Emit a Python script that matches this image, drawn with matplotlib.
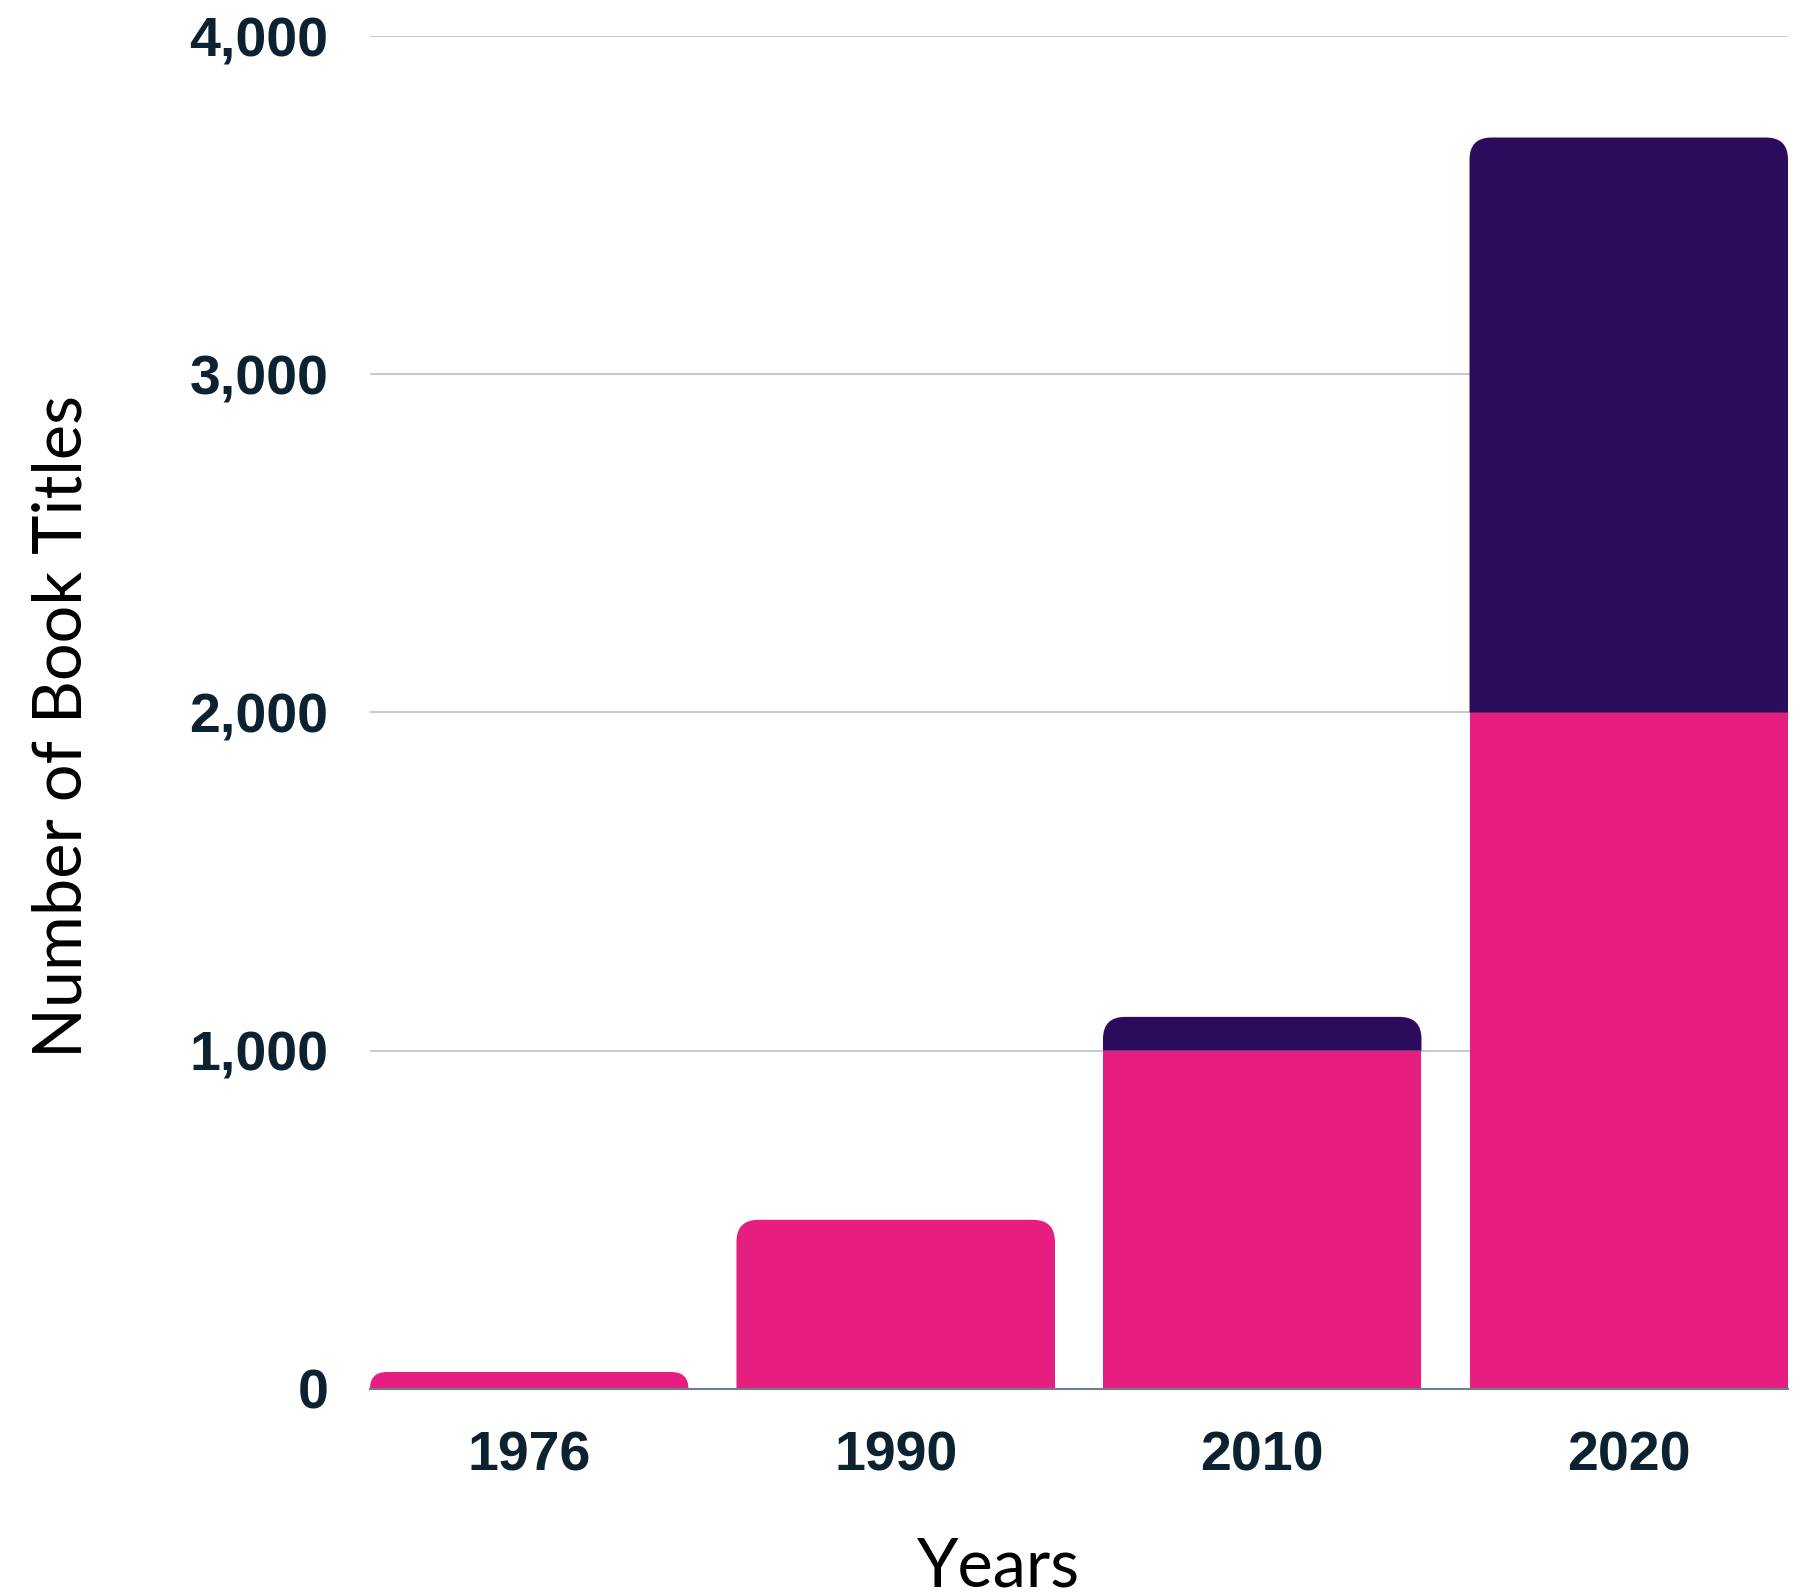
import numpy as np
import matplotlib
matplotlib.use('Agg')
import matplotlib.pyplot as plt
from matplotlib.path import Path
from matplotlib.patches import PathPatch
from matplotlib.ticker import FuncFormatter

years = ['1976', '1990', '2010', '2020']
base = [50, 500, 1000, 2000]      # pink part
extra = [0, 0, 100, 1700]         # dark purple part on top
yticks = [0, 1000, 2000, 3000, 4000]

pink = '#E51E7F'
purple = '#2B0C5C'
txt = '#0D2231'

fig = plt.figure(figsize=(18.09, 15.95), dpi=100)
ax = fig.add_axes([0.2045, 0.1292, 0.7839, 0.8482])

x = np.arange(len(years))
w = 0.869
b1 = ax.bar(x, base, w, color=pink, zorder=3)
b2 = ax.bar(x, extra, w, bottom=base, color=purple, zorder=3)

ax.set_xlim(-w / 2, len(years) - 1 + w / 2)
ax.set_ylim(0, 4000)

# round the top corners of the topmost segment of each stack
fig.canvas.draw()
to_data = ax.transData.inverted()
r_px = 22
for i in range(len(years)):
    rect = b2[i] if extra[i] > 0 else b1[i]
    x0, y0 = rect.get_x(), rect.get_y()
    x1, y1 = x0 + rect.get_width(), y0 + rect.get_height()
    p0 = ax.transData.transform((x0, y0))
    p1 = ax.transData.transform((x1, y1))
    r = min(r_px, p1[1] - p0[1])
    rx = to_data.transform((p0[0] + r, p0[1]))[0] - x0
    ry = y0 - to_data.transform((p0[0], p0[1] - r))[1]
    verts = [(x0, y0), (x1, y0), (x1, y1 - ry), (x1, y1), (x1 - rx, y1),
             (x0 + rx, y1), (x0, y1), (x0, y1 - ry), (x0, y0)]
    codes = [Path.MOVETO, Path.LINETO, Path.LINETO, Path.CURVE3, Path.CURVE3,
             Path.LINETO, Path.CURVE3, Path.CURVE3, Path.CLOSEPOLY]
    rect.set_visible(False)
    ax.add_patch(PathPatch(Path(verts, codes), facecolor=rect.get_facecolor(),
                           edgecolor='none', zorder=3))

ax.set_yticks(yticks)
ax.yaxis.set_major_formatter(FuncFormatter(lambda v, p: f'{int(v):,}'))
ax.set_xticks(x)
ax.set_xticklabels(years)

for s in ['top', 'right', 'left']:
    ax.spines[s].set_visible(False)
ax.spines['bottom'].set_color('#6F7F88')
ax.spines['bottom'].set_linewidth(1.5)
ax.spines['bottom'].set_zorder(4)

ax.grid(axis='y', color='#C2C4C7', linewidth=1.3, zorder=0)
ax.tick_params(axis='both', length=0, labelsize=40, labelcolor=txt)
ax.tick_params(axis='y', pad=30)
ax.tick_params(axis='x', pad=30)
for lab in ax.get_xticklabels() + ax.get_yticklabels():
    lab.set_fontfamily('Liberation Sans')
    lab.set_fontweight('bold')

ax.set_ylabel('Number of Book Titles', fontsize=48, family='Lato', color='black')
ax.yaxis.set_label_coords(-0.195, 0.49)
ax.set_xlabel('Years', fontsize=48, family='Lato', color='black')
ax.xaxis.set_label_coords(0.443, -0.109)

fig.savefig('out.png', dpi=100)
